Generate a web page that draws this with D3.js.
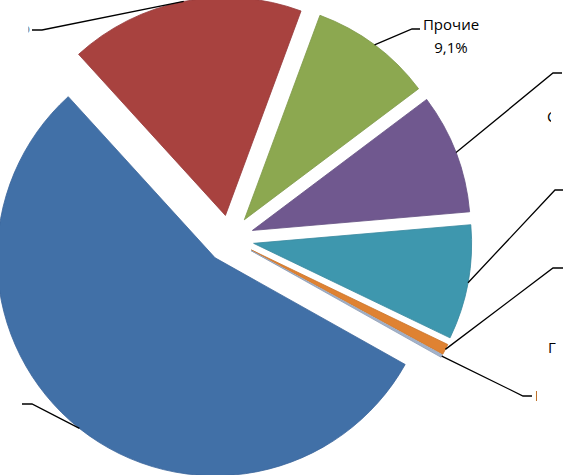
<!DOCTYPE html>
<html>
<head>
<meta charset="utf-8">
<script src="https://cdn.jsdelivr.net/npm/d3@7"></script>
<style>
  html, body { margin: 0; padding: 0; background: #fff; }
  svg { display: block; }
  text { font-family: "Open Sans", "Noto Sans", sans-serif; font-size: 15px; fill: #000; }
</style>
</head>
<body>
<svg id="chart" width="565" height="475"></svg>
<script>
// ---- data ----
const categories = ["Нефтедобыча", "Металлургия", "Прочие", "Строительство", "Транспорт", "Гостиницы", "Наука"];
const values = [55.1, 17.4, 9.1, 8.9, 8.5, 0.8, 0.2];
const palette = ["#4170A7", "#A8423F", "#8CA850", "#70588F", "#3E97AE", "#DF8232", "#A3B3CC"];
const outlines = ["#3A659A", "#96393A", "#7E9848", "#634F82", "#37889E", "#C9742B", "#8E9DB5"];

// ---- layout ----
const svg = d3.select("#chart");
const cx = 230, cy = 239, R = 218, explode = 24;
const deg = Math.PI / 180;
const start = 119.3 * deg;

const pie = d3.pie().sort(null).value(d => d.v).startAngle(start).endAngle(start + 2 * Math.PI);
const data = categories.map((c, i) => ({ c, v: values[i], i }));
const arcs = pie(data);
const arcGen = d3.arc().innerRadius(0).outerRadius(R);

const mid = a => (a.startAngle + a.endAngle) / 2;
const offset = (a, r) => [r * Math.sin(mid(a)), -r * Math.cos(mid(a))];

const g = svg.append("g").attr("transform", `translate(${cx},${cy})`);
g.selectAll("path.slice").data(arcs).join("path")
  .attr("class", "slice")
  .attr("transform", a => { const o = offset(a, explode); return `translate(${o[0]},${o[1]})`; })
  .attr("d", arcGen)
  .attr("fill", a => palette[a.index])
  .attr("stroke", a => outlines[a.index])
  .attr("stroke-width", 0.8);

// leader line elbows and label placement (layout only)
const layout = [
  { elbow: [[32, 404], [22, 404]], text: { x: 20, y: 408, anchor: "end", clip: [22, 565] } },
  { elbow: [[42, 30], [32, 30]], text: { x: 30, y: 33, anchor: "end", clip: [28.5, 565] } },
  { elbow: [[412, 29], [420, 29]], text: null },
  { elbow: [[553, 73], [562, 73]], text: { x: 547, y: 122, anchor: "start", clip: [0, 551] } },
  { elbow: [[555, 190], [563, 190]], text: { x: 567, y: 195, anchor: "start", clip: [0, 565] } },
  { elbow: [[553, 268], [563, 268]], text: { x: 548, y: 353, anchor: "start", clip: [0, 556] } },
  { elbow: [[523, 396], [532, 396]], text: { x: 535, y: 401, anchor: "start", clip: [0, 537] } }
];

const fmt = v => d3.format(".1f")(v).replace(".", ",") + "%";

const lines = svg.append("g");
arcs.forEach(a => {
  const o = offset(a, explode);
  const p = offset(a, R);
  const startPt = [cx + o[0] + p[0], cy + o[1] + p[1]];
  const pts = [startPt].concat(layout[a.index].elbow);
  lines.append("path")
    .attr("d", d3.line()(pts))
    .attr("fill", "none")
    .attr("stroke", "#000")
    .attr("stroke-width", 1.3);
});

// labels
const defs = svg.append("defs");
arcs.forEach(a => {
  const L = layout[a.index];
  if (!L.text) return;
  const id = "clip" + a.index;
  defs.append("clipPath").attr("id", id).append("rect")
    .attr("x", L.text.clip[0]).attr("y", 0)
    .attr("width", L.text.clip[1] - L.text.clip[0]).attr("height", 475);
  svg.append("text")
    .attr("clip-path", `url(#${id})`)
    .attr("x", L.text.x).attr("y", L.text.y)
    .attr("text-anchor", L.text.anchor)
    .text(a.index === 1 ? fmt(a.data.v) : a.data.c + " " + fmt(a.data.v));
});

// visible "Прочие" label
const pi = categories.indexOf("Прочие");
const other = svg.append("text").attr("text-anchor", "middle");
other.append("tspan").attr("x", 451).attr("y", 30).text(categories[pi]);
other.append("tspan").attr("x", 451).attr("y", 53).text(fmt(values[pi]));
</script>
</body>
</html>
